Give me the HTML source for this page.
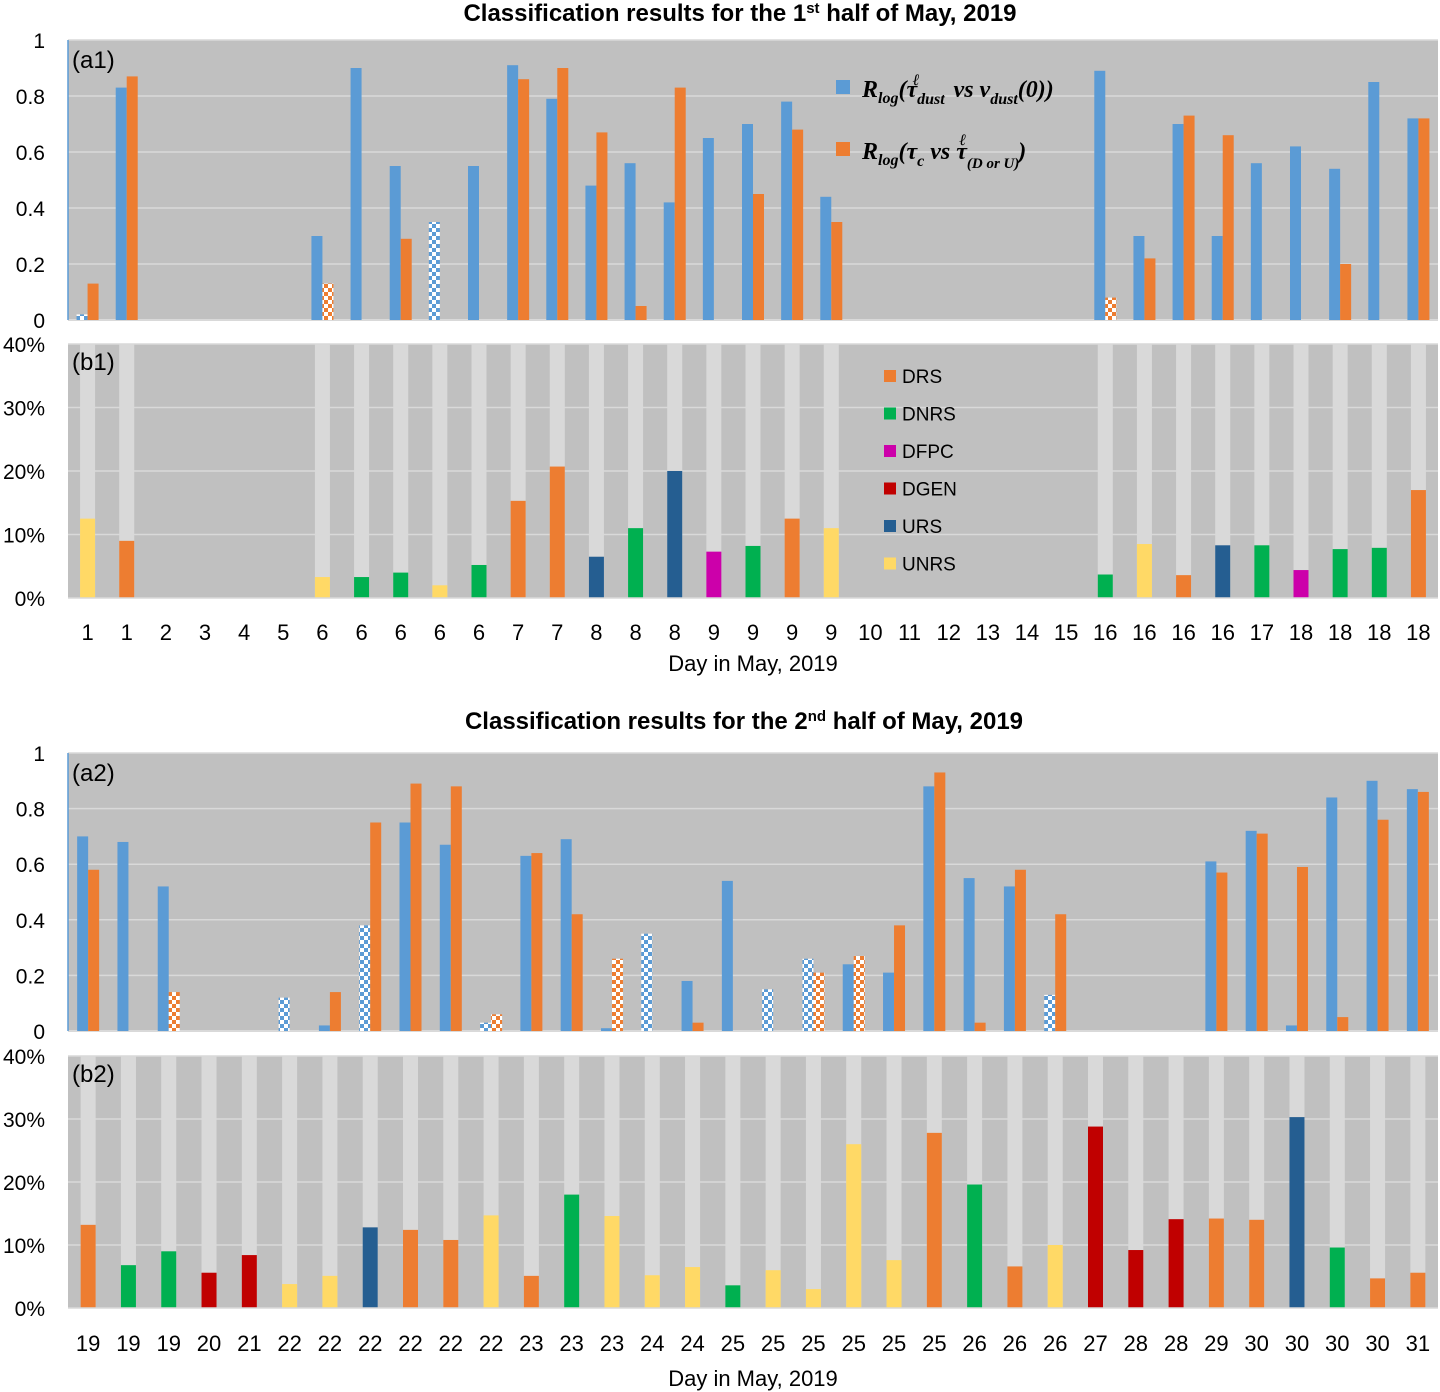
<!DOCTYPE html>
<html><head><meta charset="utf-8"><title>Classification results May 2019</title>
<style>
html,body{margin:0;padding:0;background:#fff;}
svg{display:block;font-family:"Liberation Sans",sans-serif;}
</style></head>
<body>
<svg id="chart" width="1440" height="1392" viewBox="0 0 1440 1392" xmlns="http://www.w3.org/2000/svg">
<defs>
<pattern id="chkBlue" width="8" height="8" patternUnits="userSpaceOnUse">
<rect width="8" height="8" fill="#fff"/><rect width="4" height="4" fill="#5b9bd5"/><rect x="4" y="4" width="4" height="4" fill="#5b9bd5"/>
</pattern>
<pattern id="chkOrange" width="8" height="8" patternUnits="userSpaceOnUse">
<rect width="8" height="8" fill="#fff"/><rect width="4" height="4" fill="#ed7d31"/><rect x="4" y="4" width="4" height="4" fill="#ed7d31"/>
</pattern>
</defs>
</svg>
<script>
// ---------- DATA ----------
const days1 = [1,1,2,3,4,5,6,6,6,6,6,7,7,8,8,8,9,9,9,9,10,11,12,13,14,15,16,16,16,16,17,18,18,18,18];
const blue1 = [0.02,0.83,0,0,0,0,0.30,0.90,0.55,0.35,0.55,0.91,0.79,0.48,0.56,0.42,0.65,0.70,0.78,0.44,0,0,0,0,0,0,0.89,0.30,0.70,0.30,0.56,0.62,0.54,0.85,0.72];
const blueHatch1 = [1,0,0,0,0,0,0,0,0,1,0,0,0,0,0,0,0,0,0,0,0,0,0,0,0,0,0,0,0,0,0,0,0,0,0];
const orange1 = [0.13,0.87,0,0,0,0,0.13,0,0.29,0,0,0.86,0.90,0.67,0.05,0.83,0,0.45,0.68,0.35,0,0,0,0,0,0,0.08,0.22,0.73,0.66,0,0,0.20,0,0.72];
const orangeHatch1 = [0,0,0,0,0,0,1,0,0,0,0,0,0,0,0,0,0,0,0,0,0,0,0,0,0,0,1,0,0,0,0,0,0,0,0];
const cls1 = ["UNRS","DRS","","","","","UNRS","DNRS","DNRS","UNRS","DNRS","DRS","DRS","URS","DNRS","URS","DFPC","DNRS","DRS","UNRS","","","","","","","DNRS","UNRS","DRS","URS","DNRS","DFPC","DNRS","DNRS","DRS"];
const pct1 = [12.5,9,0,0,0,0,3.3,3.3,4,2,5.2,15.3,20.7,6.5,11,20,7.3,8.2,12.5,11,0,0,0,0,0,0,3.7,8.5,3.6,8.3,8.3,4.4,7.7,7.9,17];

const days2 = [19,19,19,20,21,22,22,22,22,22,22,23,23,23,24,24,25,25,25,25,25,25,26,26,26,27,28,28,29,30,30,30,30,31];
const blue2 = [0.70,0.68,0.52,0,0,0.12,0.02,0.38,0.75,0.67,0.03,0.63,0.69,0.01,0.35,0.18,0.54,0.15,0.26,0.24,0.21,0.88,0.55,0.52,0.13,0,0,0,0.61,0.72,0.02,0.84,0.90,0.87];
const blueHatch2 = [0,0,0,0,0,1,0,1,0,0,1,0,0,0,1,0,0,1,1,0,0,0,0,0,1,0,0,0,0,0,0,0,0,0];
const orange2 = [0.58,0,0.14,0,0,0,0.14,0.75,0.89,0.88,0.06,0.64,0.42,0.26,0,0.03,0,0,0.21,0.27,0.38,0.93,0.03,0.58,0.42,0,0,0,0.57,0.71,0.59,0.05,0.76,0.86];
const orangeHatch2 = [0,0,1,0,0,0,0,0,0,0,1,0,0,1,0,0,0,0,1,1,0,0,0,0,0,0,0,0,0,0,0,0,0,0];
const cls2 = ["DRS","DNRS","DNRS","DGEN","DGEN","UNRS","UNRS","URS","DRS","DRS","UNRS","DRS","DNRS","UNRS","UNRS","UNRS","DNRS","UNRS","UNRS","UNRS","UNRS","DRS","DNRS","DRS","UNRS","DGEN","DGEN","DGEN","DRS","DRS","URS","DNRS","DRS","DRS"];
const pct2 = [13.2,6.8,9,5.6,8.4,3.8,5.1,12.8,12.4,10.8,14.7,5.1,18,14.6,5.2,6.5,3.6,6,3,26,7.6,27.8,19.6,6.6,10,28.8,9.2,14.1,14.2,14,30.3,9.6,4.7,5.6];
const grey2 = days2.map(()=>1);
const grey1 = [1,1,0,0,0,0,1,1,1,1,1,1,1,1,1,1,1,1,1,1,0,0,0,0,0,0,1,1,1,1,1,1,1,1,1];

const ticksA = ["0","0.2","0.4","0.6","0.8","1"];
const ticksB = ["0%","10%","20%","30%","40%"];
const classNames = ["DRS","DNRS","DFPC","DGEN","URS","UNRS"];

// ---------- STYLE ----------
const classColor = {DRS:"#ed7d31",DNRS:"#00b050",DFPC:"#cc00aa",DGEN:"#c00000",URS:"#255e91",UNRS:"#ffd966"};
const NS = "http://www.w3.org/2000/svg";
const svg = document.getElementById('chart');
const X0 = 68, X1 = 1438;

function mk(tag, attrs, parent, name, inter){
  const e = document.createElementNS(NS, tag);
  for (const k in attrs) e.setAttribute(k, attrs[k]);
  
  
  (parent||svg).appendChild(e);
  return e;
}
function txt(x,y,s,size,anchor,parent,name,weight){
  const t = mk('text',{x:x,y:y,'font-size':size,'text-anchor':anchor||'middle',fill:'#000','font-weight':weight||'normal'},parent,name,false);
  t.textContent = s;
  return t;
}

function xScale(n){ const w=(X1-X0)/n; return i => X0 + w*(i+0.5); }

function panelA(top, bottom, label, blue, bh, orange, oh, suffix){
  const g = mk('g',{},svg,'panel-'+suffix,false);
  mk('rect',{x:X0,y:top,width:X1-X0,height:bottom-top,fill:'#c0c0c0'},g,'plot-area-'+suffix,false);
  const y = v => bottom - v*(bottom-top);
  ticksA.forEach((t,i)=>{
    const v = parseFloat(t);
    if (i>0) mk('line',{x1:X0,x2:X1,y1:y(v),y2:y(v),stroke:'#d9d9d9','stroke-width':1.5},g,'gridline',false);
    txt(45, y(v)+8, t, 21, 'end', g, 'y-tick-label');
  });
  mk('line',{x1:X0,x2:X1,y1:bottom,y2:bottom,stroke:'#d9d9d9','stroke-width':2},g,'x-axis-line',false);
  mk('line',{x1:X0,x2:X0,y1:top,y2:bottom,stroke:'#5b9bd5','stroke-width':1.5},g,'y-axis-line',false);
  const xs = xScale(blue.length);
  const bw = 11;
  blue.forEach((v,i)=>{
    if (v<=0) return;
    mk('rect',{x:xs(i)-bw,y:y(v),width:bw,height:bottom-y(v),fill:bh[i]?'url(#chkBlue)':'#5b9bd5'},g,'blue-bar',false);
  });
  orange.forEach((v,i)=>{
    if (v<=0) return;
    mk('rect',{x:xs(i),y:y(v),width:bw,height:bottom-y(v),fill:oh[i]?'url(#chkOrange)':'#ed7d31'},g,'orange-bar',false);
  });
  txt(72, top+28, label, 24, 'start', g, 'panel-label');
  return g;
}

function panelB(top, bottom, label, cls, pct, grey, suffix){
  const g = mk('g',{},svg,'panel-'+suffix,false);
  mk('rect',{x:X0,y:top,width:X1-X0,height:bottom-top,fill:'#c0c0c0'},g,'plot-area-'+suffix,false);
  const y = v => bottom - v/40*(bottom-top);
  ticksB.forEach((t,i)=>{
    const v = parseFloat(t);
    if (i>0) mk('line',{x1:X0,x2:X1,y1:y(v),y2:y(v),stroke:'#d9d9d9','stroke-width':1.5},g,'gridline',false);
    txt(45, y(v)+8, t, 21, 'end', g, 'y-tick-label');
  });
  const xs = xScale(cls.length);
  const gw = 15;
  grey.forEach((v,i)=>{
    if (!v) return;
    mk('rect',{x:xs(i)-gw/2,y:top,width:gw,height:bottom-top,fill:'#d9d9d9'},g,'total-bar',false);
  });
  pct.forEach((v,i)=>{
    if (v<=0) return;
    mk('rect',{x:xs(i)-gw/2,y:y(v),width:gw,height:bottom-y(v),fill:classColor[cls[i]]},g,'class-bar-'+cls[i].toLowerCase(),false);
  });
  mk('line',{x1:X0,x2:X1,y1:bottom,y2:bottom,stroke:'#d9d9d9','stroke-width':1.5},g,'x-axis-line',false);
  txt(72, top+26, label, 24, 'start', g, 'panel-label');
  return g;
}

function xLabels(days, yy, titleY){
  const g = mk('g',{},svg,'x-axis-labels',false);
  const xs = xScale(days.length);
  days.forEach((d,i)=> txt(xs(i), yy, String(d), 22, 'middle', g, 'x-tick-label'));
  txt(753, titleY, 'Day in May, 2019', 22, 'middle', svg, 'x-axis-title');
}

// ---------- TITLES ----------
(function(){
  const t = mk('text',{x:740,y:21,'font-size':24,'font-weight':'bold','text-anchor':'middle'},svg,'chart-title-1',false);
  t.innerHTML = 'Classification results for the 1<tspan baseline-shift="super" font-size="15">st</tspan> half of May, 2019';
  const t2 = mk('text',{x:744,y:729,'font-size':24,'font-weight':'bold','text-anchor':'middle'},svg,'chart-title-2',false);
  t2.innerHTML = 'Classification results for the 2<tspan baseline-shift="super" font-size="15">nd</tspan>  half of May, 2019';
})();

panelA(40, 320, '(a1)', blue1, blueHatch1, orange1, orangeHatch1, 'a1');
panelB(344, 598, '(b1)', cls1, pct1, grey1, 'b1');
xLabels(days1, 640, 671);
panelA(753, 1031, '(a2)', blue2, blueHatch2, orange2, orangeHatch2, 'a2');
panelB(1056, 1308, '(b2)', cls2, pct2, grey2, 'b2');
xLabels(days2, 1351, 1386);

// ---------- LEGENDS ----------
(function(){
  const g = mk('g',{},svg,'legend-a1',false);
  mk('rect',{x:836,y:80,width:14,height:14,fill:'#5b9bd5'},g,'legend-swatch-blue',false);
  const l1 = mk('text',{x:862,y:97,'font-size':24,'font-weight':'bold','font-style':'italic','font-family':'Liberation Serif, serif'},g,'legend-entry-blue',false);
  l1.innerHTML = 'R<tspan font-size="16" dy="6">log</tspan><tspan dy="-6">(τ</tspan><tspan font-size="16" dy="7">dust</tspan><tspan dx="-32" dy="-19" font-size="16">ℓ</tspan><tspan dx="28" dy="12"> vs ν</tspan><tspan font-size="16" dy="7">dust</tspan><tspan dy="-7">(0))</tspan>';
  mk('rect',{x:836,y:142,width:14,height:14,fill:'#ed7d31'},g,'legend-swatch-orange',false);
  const l2 = mk('text',{x:862,y:159,'font-size':24,'font-weight':'bold','font-style':'italic','font-family':'Liberation Serif, serif'},g,'legend-entry-orange',false);
  l2.innerHTML = 'R<tspan font-size="16" dy="6">log</tspan><tspan dy="-6">(τ</tspan><tspan font-size="16" dy="7">c</tspan><tspan dy="-7"> vs τ</tspan><tspan font-size="15" dy="9">(D or U)</tspan><tspan dx="-60" dy="-23" font-size="16">ℓ</tspan><tspan dx="52" dy="14">)</tspan>';

  const gb = mk('g',{},svg,'legend-b1',false);
  classNames.forEach((c,i)=>{
    const yy = 370 + i*37.5;
    mk('rect',{x:884,y:yy,width:12,height:12,fill:classColor[c]},gb,'legend-swatch-'+c.toLowerCase(),false);
    txt(902, yy+13, c, 19, 'start', gb, 'legend-entry-'+c.toLowerCase());
  });
})();
</script>
</body></html>
